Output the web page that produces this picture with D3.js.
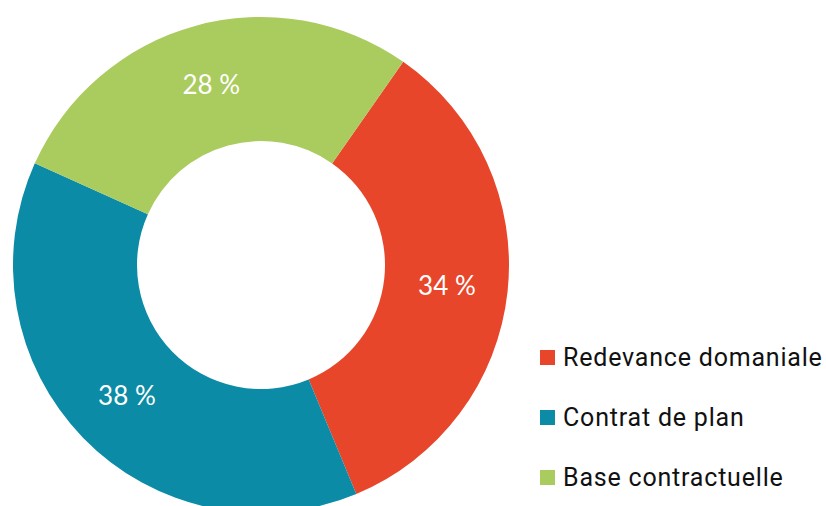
<!DOCTYPE html>
<html>
<head>
<meta charset="utf-8">
<script src="https://cdn.jsdelivr.net/npm/d3@7"></script>
<style>
  html, body { margin: 0; padding: 0; background: #fff; }
  svg { display: block; }
</style>
</head>
<body>
<svg id="chart" width="826" height="506"></svg>
<script>
// Répartition des recettes
const categories = ["Redevance domaniale", "Contrat de plan", "Base contractuelle"];
const values = [34, 38, 28];
const labels = ["34 %", "38 %", "28 %"];
const colors = ["#E8462A", "#0B8BA5", "#AACB5E"];

const svg = d3.select("#chart");
const cx = 261, cy = 265;
const outerR = 248, innerR = 124;
const startDeg = 35;

const pie = d3.pie()
  .sort(null)
  .value(d => d)
  .startAngle(startDeg * Math.PI / 180)
  .endAngle((startDeg + 360) * Math.PI / 180);

const arc = d3.arc().innerRadius(innerR).outerRadius(outerR);
const labelR = 187;
const labelArc = d3.arc().innerRadius(labelR).outerRadius(labelR);

const g = svg.append("g").attr("transform", `translate(${cx},${cy})`);
const arcs = pie(values);

g.selectAll("path.slice")
  .data(arcs)
  .join("path")
  .attr("class", "slice")
  .attr("d", arc)
  .attr("fill", (d, i) => colors[i]);

g.selectAll("text.val")
  .data(arcs)
  .join("text")
  .attr("class", "val")
  .attr("transform", d => `translate(${labelArc.centroid(d)})`)
  .attr("text-anchor", "middle")
  .attr("dy", "0.36em")
  .attr("font-family", "Lato, 'Open Sans', sans-serif")
  .attr("font-size", 26)
  .attr("fill", "#fff")
  .text((d, i) => labels[i]);

// Légende
const rowStep = 60;
const legend = svg.append("g").attr("transform", "translate(540,357.5)");
const item = legend.selectAll("g.item")
  .data(categories)
  .join("g")
  .attr("class", "item")
  .attr("transform", (d, i) => `translate(0,${i * rowStep})`);

item.append("rect")
  .attr("x", 0).attr("y", -7.5)
  .attr("width", 15).attr("height", 15)
  .attr("fill", (d, i) => colors[i]);

item.append("text")
  .attr("x", 23)
  .attr("y", 8.5)
  .attr("font-family", "Roboto, 'Liberation Sans', sans-serif")
  .attr("font-size", 25)
  .attr("letter-spacing", 0.8)
  .attr("fill", "#111")
  .text(d => d);
</script>
</body>
</html>
